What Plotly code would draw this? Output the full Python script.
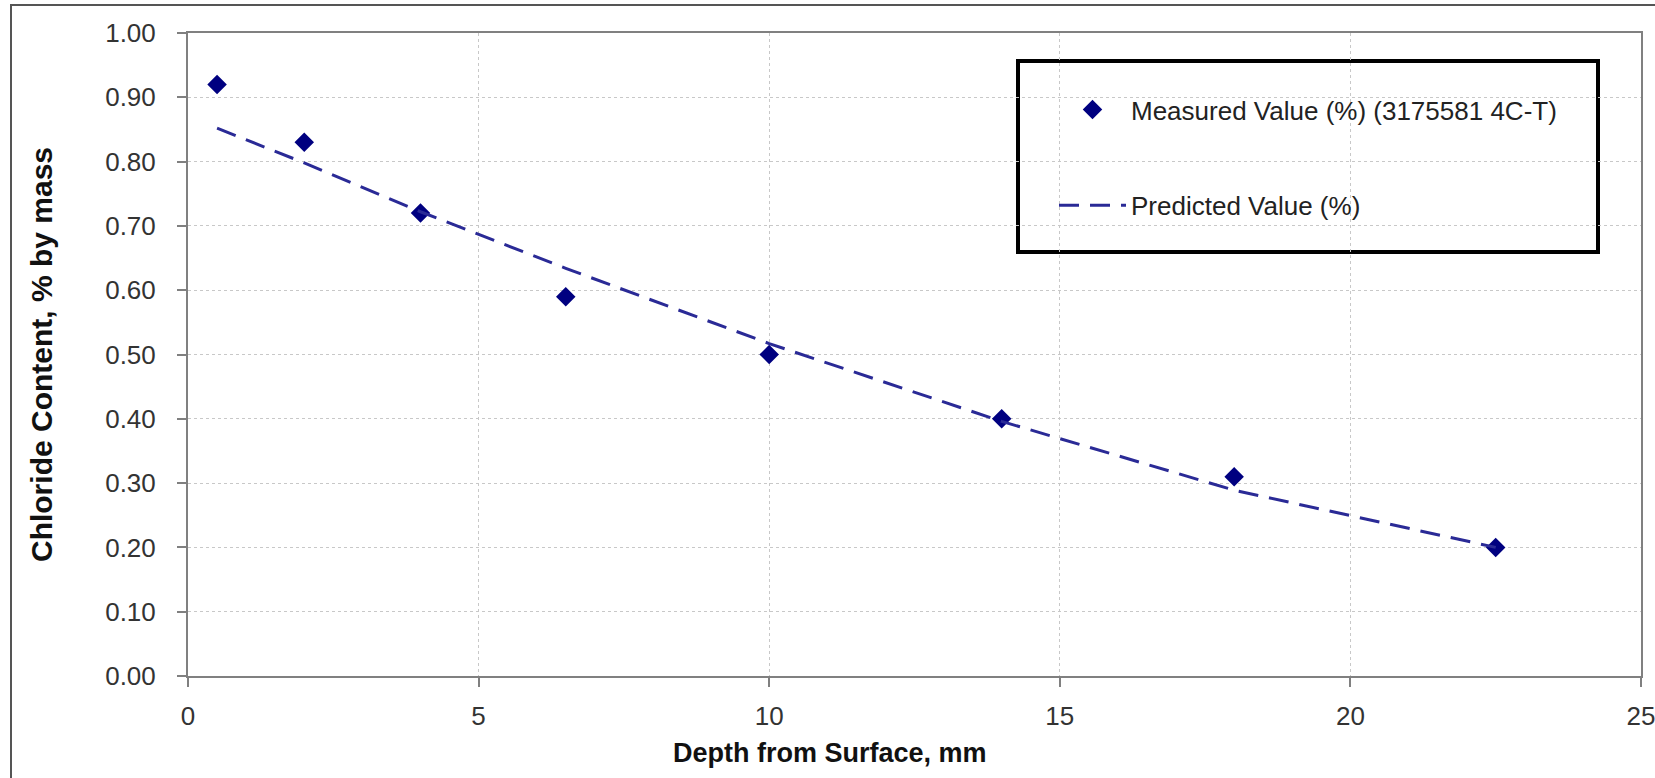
import plotly.graph_objects as go

# Data
depth_measured = [0.5, 2, 4, 6.5, 10, 14, 18, 22.5]
chloride_measured = [0.92, 0.83, 0.72, 0.59, 0.50, 0.40, 0.31, 0.20]
depth_predicted = [0.5, 2, 4, 6.5, 10, 14, 18, 22.5]
chloride_predicted = [0.852, 0.798, 0.722, 0.634, 0.517, 0.396, 0.289, 0.200]

measured_name = "Measured Value (%) (3175581 4C-T)"
predicted_name = "Predicted Value (%)"
x_title = "Depth from Surface, mm"
y_title = "Chloride Content, % by mass"

W, H = 1655, 778
L, R, T, B = 188, 14, 33, 102
pw, ph = W - L - R, H - T - B

def px(x):
    return (x - L) / pw

def py(y):
    return (H - B - y) / ph

fig = go.Figure()
fig.add_trace(go.Scatter(
    x=depth_measured, y=chloride_measured, mode="markers", name=measured_name,
    marker=dict(symbol="diamond", size=15, color="#000080"),
    legendgroup="a",
))
fig.add_trace(go.Scatter(
    x=depth_predicted, y=chloride_predicted, mode="lines", name=predicted_name,
    line=dict(color="#2a2a96", width=3, dash="20px,11px"),
    legendgroup="b",
))

font_family = "Liberation Sans, Arial, sans-serif"

fig.update_layout(
    width=W, height=H,
    margin=dict(l=L, r=R, t=T, b=B, pad=0),
    paper_bgcolor="white", plot_bgcolor="white",
    font=dict(family=font_family, size=24, color="#333333"),
    showlegend=True,
    legend=dict(
        x=px(1054), y=py(86), xanchor="left", yanchor="top",
        bgcolor="rgba(0,0,0,0)", borderwidth=0,
        itemwidth=67, tracegroupgap=59,
        font=dict(size=26, color="#222222"),
    ),
    shapes=[
        dict(type="rect", xref="paper", yref="paper",
             x0=px(1018), x1=px(1598), y0=py(252), y1=py(61),
             line=dict(color="black", width=4), fillcolor="white", layer="below"),
        dict(type="rect", xref="paper", yref="paper",
             x0=px(11), x1=px(1700), y0=py(820), y1=py(5),
             line=dict(color="#555555", width=2), fillcolor="rgba(0,0,0,0)"),
    ],
    annotations=[
        dict(text="<b>" + x_title + "</b>", xref="paper", yref="paper",
             x=px(830), y=py(753), xanchor="center", yanchor="middle",
             showarrow=False, font=dict(size=27, color="#111111")),
    ],
)

fig.update_xaxes(
    range=[0, 25], dtick=5, tick0=0, automargin=False,
    showline=True, linecolor="#808080", linewidth=2, mirror=True,
    ticks="outside", ticklen=9, tickwidth=2, tickcolor="#808080",
    showgrid=True, gridcolor="#c8c8c8", gridwidth=1, griddash="dot",
    zeroline=False,
    tickfont=dict(size=26, color="#333333"),
    ticklabelstandoff=7, ticklabeloverflow="allow",
)
fig.update_yaxes(
    range=[0, 1], dtick=0.1, tick0=0, tickformat=".2f", automargin=False,
    showline=True, linecolor="#808080", linewidth=2, mirror=True,
    ticks="outside", ticklen=9, tickwidth=2, tickcolor="#808080",
    showgrid=True, gridcolor="#c8c8c8", gridwidth=1, griddash="dot",
    zeroline=False,
    tickfont=dict(size=26, color="#333333"),
    ticklabelstandoff=16, ticklabeloverflow="allow",
    title=dict(text="<b>" + y_title + "</b>", font=dict(size=30, color="#111111"), standoff=44),
)

fig.write_html("out.html")
